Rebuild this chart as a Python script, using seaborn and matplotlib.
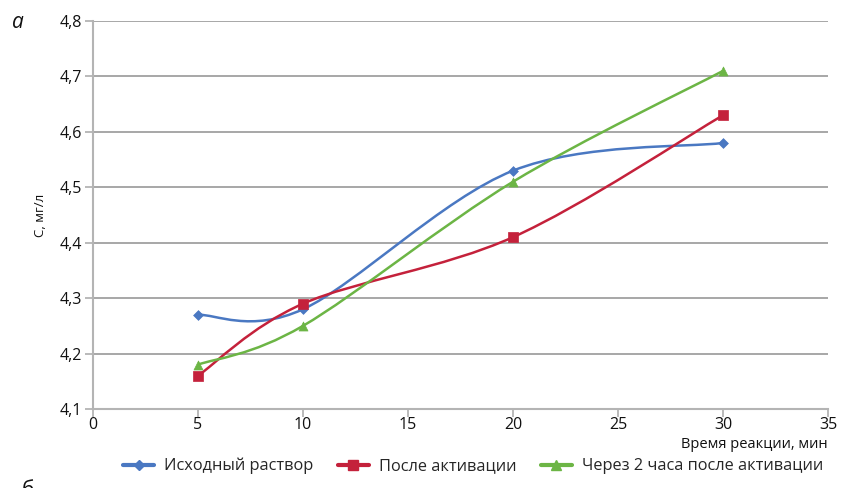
import numpy as np
import pandas as pd
import seaborn as sns
from matplotlib import pyplot as plt
from matplotlib.path import Path
from matplotlib.patches import PathPatch
from matplotlib.lines import Line2D
from matplotlib.ticker import FuncFormatter, MultipleLocator

TIME_MIN = [5, 10, 20, 30]
INITIAL = [4.27, 4.28, 4.53, 4.58]
ACTIVATED = [4.16, 4.29, 4.41, 4.63]
AFTER_2H = [4.18, 4.25, 4.51, 4.71]

SERIES = {
    "Исходный раствор": (INITIAL, "#4a78c2", "D", 5),
    "После активации": (ACTIVATED, "#c4213b", "s", 6.5),
    "Через 2 часа после активации": (AFTER_2H, "#6cb545", "^", 6.5),
}


def smooth_path(x, y):
    # Excel-like smoothed line: cubic Bezier with Catmull-Rom control points
    pts = np.column_stack([x, y]).astype(float)
    ext = np.vstack([pts[0], pts, pts[-1]])
    verts = [pts[0]]
    codes = [Path.MOVETO]
    for i in range(len(pts) - 1):
        p0, p1, p2, p3 = ext[i], ext[i + 1], ext[i + 2], ext[i + 3]
        verts += [p1 + (p2 - p0) / 6, p2 - (p3 - p1) / 6, p2]
        codes += [Path.CURVE4] * 3
    return Path(verts, codes)


sns.set_theme(style="white")
plt.rcParams["font.family"] = ["Open Sans", "DejaVu Sans"]

fig = plt.figure(figsize=(8.51, 4.88), dpi=100)
ax = fig.add_axes([93 / 851, 1 - 409 / 488, (828 - 93) / 851, (409 - 21) / 488])

grid_c = "#a0a0a0"
ax.set_xlim(0, 35)
ax.set_ylim(4.1, 4.8)
ax.yaxis.set_major_locator(MultipleLocator(0.1))
ax.xaxis.set_major_locator(MultipleLocator(5))
ax.yaxis.grid(True, color=grid_c, linewidth=1.3)
ax.xaxis.grid(False)
for side in ["top", "right"]:
    ax.spines[side].set_visible(False)
for side in ["left", "bottom"]:
    ax.spines[side].set_color("#b4b4b4")
    ax.spines[side].set_linewidth(1.5)
ax.tick_params(axis="both", which="major", direction="out", length=6, width=1.3,
               color="#b4b4b4", labelsize=11.5, labelcolor="#111111", pad=2, left=True, bottom=True)
ax.tick_params(axis="x", pad=0)
fmt = FuncFormatter(lambda v, p: f"{v:.1f}".replace(".", ","))
ax.yaxis.set_major_formatter(fmt)
ax.xaxis.set_major_formatter(FuncFormatter(lambda v, p: f"{v:.0f}"))

handles = []
for name, (vals, color, marker, ms) in SERIES.items():
    ax.add_patch(PathPatch(smooth_path(TIME_MIN, vals), facecolor="none",
                           edgecolor=color, linewidth=1.8, zorder=3))
    df = pd.DataFrame({"t": TIME_MIN, "c": vals})
    sns.scatterplot(data=df, x="t", y="c", marker=marker, s=ms ** 2, color=color,
                    edgecolor=color, linewidth=0.5, zorder=4, ax=ax, legend=False)
    handles.append(Line2D([], [], color=color, linewidth=3, marker=marker,
                          markersize=ms, markeredgecolor=color))

ax.set_xlabel("")
ax.set_ylabel("")
fig.text(40 / 851, 1 - 215 / 488, "С, мг/л", rotation=90, ha="center", va="center",
         fontsize=9.5, color="#111111")
fig.text(828 / 851, 1 - 444 / 488, "Время реакции, мин", ha="right", va="center",
         fontsize=10.5, color="#111111")
fig.text(12 / 851, 1 - 22 / 488, "а", ha="left", va="center", fontsize=15,
         style="italic", color="#111111")
fig.text(28 / 851, 1 - 490 / 488, "б", ha="center", va="center", fontsize=15,
         color="#111111")

fig.legend(handles, list(SERIES), loc="center", bbox_to_anchor=(473 / 851, 1 - 466 / 488),
           ncol=3, frameon=False, fontsize=11.8, handlelength=1.9, columnspacing=1.5,
           handletextpad=0.6)

fig.savefig("out.png", dpi=100, facecolor="white")
